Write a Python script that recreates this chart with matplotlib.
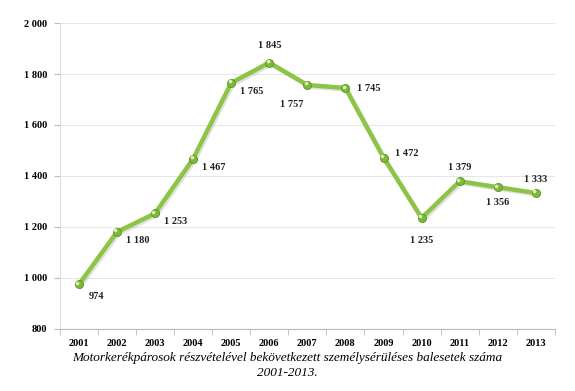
import matplotlib.pyplot as plt
import matplotlib.patheffects as pe
import numpy as np

years = ['2001', '2002', '2003', '2004', '2005', '2006', '2007',
         '2008', '2009', '2010', '2011', '2012', '2013']
values = [974, 1180, 1253, 1467, 1765, 1845, 1757, 1745, 1472, 1235, 1379, 1356, 1333]
# label offsets in points (dx, dy)
offsets = [(13, -9), (15, -6), (15, -6), (15, -6), (15, -6), (0, 12), (-11, -14),
           (17, 0), (17, 3), (0, -16), (0, 10), (0, -11), (0, 10)]

def fmt(v):
    return '{:,}'.format(v).replace(',', ' ')

plt.rcParams['font.family'] = ['Liberation Serif', 'DejaVu Serif']

fig = plt.figure(figsize=(5.75, 3.91), dpi=100)
ax = fig.add_axes([0.104, 0.159, 0.861, 0.782])

x = np.arange(len(years))
green = '#8bc543'
ax.plot(x, values, color=green, lw=3.2, solid_joinstyle='round', zorder=3,
        path_effects=[pe.SimpleLineShadow(offset=(1.2, -1.2), shadow_color='#aaaaaa', alpha=0.35),
                      pe.Normal()])
ax.scatter(x, values, s=34, color='#7db83a', edgecolors='#5e9128', linewidths=0.6, zorder=4)
ax.scatter(x - 0.04, np.array(values) + 6, s=7, color='#d8f0b0', linewidths=0, zorder=5)

for i, v in enumerate(values):
    ax.annotate(fmt(v), (x[i], v), xytext=offsets[i], textcoords='offset points',
                ha='center', va='center', fontsize=7.5, fontweight='bold', color='#222222')

ax.set_ylim(800, 2000)
ax.set_xlim(-0.5, len(years) - 0.5)
yt = np.arange(800, 2001, 200)
ax.set_yticks(yt)
ax.set_yticklabels([fmt(t) for t in yt], fontsize=7.5, fontweight='bold')
ax.set_xticks(x)
ax.set_xticklabels(years, fontsize=7.5, fontweight='bold')
ax.set_xticks(np.arange(-0.5, len(years)), minor=True)
ax.tick_params(axis='x', which='major', length=0, pad=7)
ax.tick_params(axis='x', which='minor', length=4, color='#bbbbbb')
ax.tick_params(axis='y', length=4, color='#bbbbbb', pad=5)

ax.grid(axis='y', color='#e6e6e6', lw=0.8)
ax.set_axisbelow(True)
for s in ['top', 'right']:
    ax.spines[s].set_visible(False)
ax.spines['left'].set_color('#dddddd')
ax.spines['bottom'].set_color('#bbbbbb')

fig.text(0.5, 0.085, 'Motorkerékpárosok részvételével bekövetkezett személysérüléses balesetek száma',
         ha='center', va='center', fontsize=9.5, style='italic')
fig.text(0.5, 0.045, '2001-2013.', ha='center', va='center', fontsize=9.5, style='italic')

fig.savefig('out.png', dpi=100)
